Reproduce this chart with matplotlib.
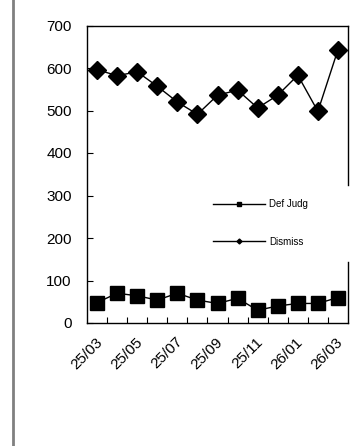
import matplotlib
matplotlib.use("Agg")
import matplotlib.pyplot as plt
import matplotlib.transforms as mtransforms
from matplotlib.lines import Line2D

plt.rcParams['font.family'] = ['Liberation Sans', 'DejaVu Sans']

months = ["25/03", "25/04", "25/05", "25/06", "25/07", "25/08", "25/09",
          "25/10", "25/11", "25/12", "26/01", "26/02", "26/03"]
dismiss = [596, 582, 591, 557, 520, 491, 536, 548, 506, 536, 583, 498, 643]
def_judg = [48, 70, 64, 54, 70, 54, 46, 58, 30, 40, 46, 46, 60]
yticks = [0, 100, 200, 300, 400, 500, 600, 700]

fig = plt.figure(figsize=(3.61, 4.46), dpi=100)
ax = fig.add_axes([87/361, 1-323/446, 261/361, 297.5/446])

x = list(range(len(months)))
ax.plot(x, dismiss, color='black', lw=1, marker='D', ms=8.8, mfc='black', mec='black', zorder=3)
ax.plot(x, def_judg, color='black', lw=1, marker='s', ms=9.5, mfc='black', mec='black', zorder=3)

ax.set_xlim(-0.5, len(months) - 0.5)
ax.set_ylim(0, 700)
ax.set_yticks(yticks)
ax.set_yticklabels([str(v) for v in yticks])
ax.set_xticks(x[::2])
ax.set_xticklabels(months[::2], rotation=45, ha='right', va='center',
                   rotation_mode='anchor')
ax.set_xticks([i + 0.5 for i in range(len(months) - 1)], minor=True)
ax.tick_params(axis='x', which='major', length=0, pad=12, labelsize=11)
ax.tick_params(axis='x', which='minor', direction='in', length=4, width=0.8)
ax.tick_params(axis='y', direction='in', length=4, width=0.8, pad=11, labelsize=11)

offset = mtransforms.ScaledTranslation(3/100, 0, fig.dpi_scale_trans)
for lbl in ax.get_xticklabels():
    lbl.set_transform(lbl.get_transform() + offset)

for s in ['left', 'bottom', 'top']:
    ax.spines[s].set_linewidth(1)
ax.spines['right'].set_visible(False)
ax.axvline(len(months) - 0.5, ymin=0, ymax=0.205, color='black', lw=1, clip_on=False)
ax.axvline(len(months) - 0.5, ymin=0.464, ymax=1, color='black', lw=1, clip_on=False)

handles = [Line2D([], [], color='black', lw=1, marker='s', ms=3),
           Line2D([], [], color='black', lw=1, marker='D', ms=2.5)]
fig.legend(handles, ['Def Judg', 'Dismiss'], loc='center left',
           bbox_to_anchor=(213/361, 1-223/446), frameon=False,
           fontsize=7, handlelength=5.3, handletextpad=0.5,
           labelspacing=2.8, borderpad=0, borderaxespad=0)

# gray vertical rule at the left edge
fig.add_artist(Line2D([13/361, 13/361], [0, 1], color='#808080', lw=2))

fig.savefig('out.png', dpi=100)
